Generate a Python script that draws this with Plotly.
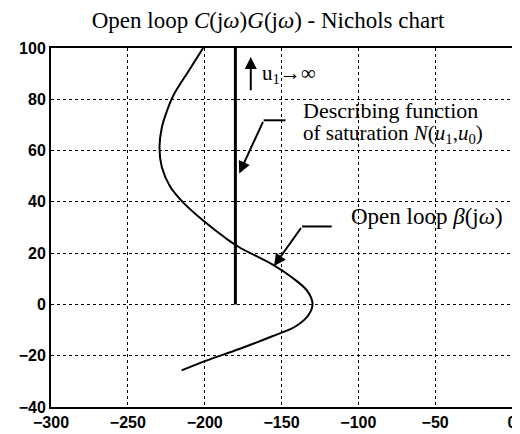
"""
Nichols chart of the open loop with the saturation describing function
"""
import plotly.graph_objects as go

# open loop beta(jw): phase (deg) and gain (dB)
loop_phase = [-201, -209.7, -220.3, -224.7, -227.9, -229.4, -227.9, -222.5, -213.9,
              -201, -186, -177.5, -156, -143.1, -133.4, -129.8, -132.4, -141,
              -156, -177.5, -198.9, -215]
loop_gain = [100, 91.7, 81.6, 75.2, 68.9, 61.3, 53.6, 46, 39.7,
             32.7, 25.7, 22.3, 15.6, 10.5, 5.4, 0.3, -4.1, -8.6,
             -12.4, -17.4, -21.9, -25.7]

# describing function of saturation: vertical line at -180 deg
df_phase = [-180, -180]
df_gain = [0, 100]

x_ticks = [-300, -250, -200, -150, -100, -50, 0]
y_ticks = [-40, -20, 0, 20, 40, 60, 80, 100]

serif = 'Liberation Serif, Times New Roman, serif'
sans = 'Liberation Sans, Arial, sans-serif'

fig = go.Figure()

fig.add_trace(go.Scatter(x=loop_phase, y=loop_gain, mode='lines',
                         line=dict(color='black', width=2, shape='spline'),
                         showlegend=False))
fig.add_trace(go.Scatter(x=df_phase, y=df_gain, mode='lines',
                         line=dict(color='black', width=3),
                         showlegend=False))

# horizontal parts of the bent leader lines
fig.add_trace(go.Scatter(x=[-161.6, -147.4], y=[71.8, 71.8], mode='lines',
                         line=dict(color='black', width=2), showlegend=False))
fig.add_trace(go.Scatter(x=[-136.6, -117.3], y=[30.4, 30.4], mode='lines',
                         line=dict(color='black', width=2), showlegend=False))

arrow = dict(showarrow=True, arrowhead=2, arrowsize=1.2, arrowwidth=2,
             arrowcolor='black', axref='x', ayref='y', text='')
fig.add_annotation(x=-177.5, y=51.1, ax=-161.6, ay=71.8, **arrow)
fig.add_annotation(x=-154.9, y=15, ax=-136.6, ay=30.4, **arrow)
fig.add_annotation(x=-170, y=96.5, ax=-170, ay=82.9, **arrow)

fig.add_annotation(x=-164, y=89.7, xanchor='left', showarrow=False,
                   text='u<sub>1</sub>→∞',
                   font=dict(family=serif, size=21, color='black'))
fig.add_annotation(x=-137, y=75.8, xanchor='left', yanchor='middle', showarrow=False,
                   text='Describing function',
                   font=dict(family=serif, size=22, color='black'))
fig.add_annotation(x=-137, y=66.6, xanchor='left', yanchor='middle', showarrow=False,
                   text='of saturation <i>N</i>(<i>u</i><sub>1</sub>,<i>u</i><sub>0</sub>)',
                   font=dict(family=serif, size=21, color='black'))
fig.add_annotation(x=-106, y=34.2, xanchor='left', yanchor='middle', showarrow=False,
                   text='Open loop <i>β</i>(j<i>ω</i>)',
                   font=dict(family=serif, size=23, color='black'))

fig.update_layout(
    width=520, height=434,
    margin=dict(l=43, r=11, t=40, b=27),
    paper_bgcolor='white', plot_bgcolor='white',
    title=dict(text='Open loop <i>C</i>(j<i>ω</i>)<i>G</i>(j<i>ω</i>) - Nichols chart',
               x=0.5, xanchor='center', y=0.99, yanchor='top',
               font=dict(family=serif, size=23, color='black')),
    font=dict(family=sans, size=16, color='black'),
    showlegend=False,
)
fig.update_xaxes(range=[-300, 0], tickvals=x_ticks, showgrid=True,
                 gridcolor='black', griddash='dot', gridwidth=1,
                 showline=True, linecolor='black', linewidth=2, mirror=True,
                 ticks='', zeroline=False, tickfont=dict(family=sans, size=16, weight='bold'))
fig.update_yaxes(range=[-40, 100], tickvals=y_ticks, showgrid=True,
                 gridcolor='black', griddash='dot', gridwidth=1,
                 showline=True, linecolor='black', linewidth=2, mirror=True,
                 ticks='', zeroline=False, tickfont=dict(family=sans, size=16, weight='bold'))

fig.write_html("out.html")
